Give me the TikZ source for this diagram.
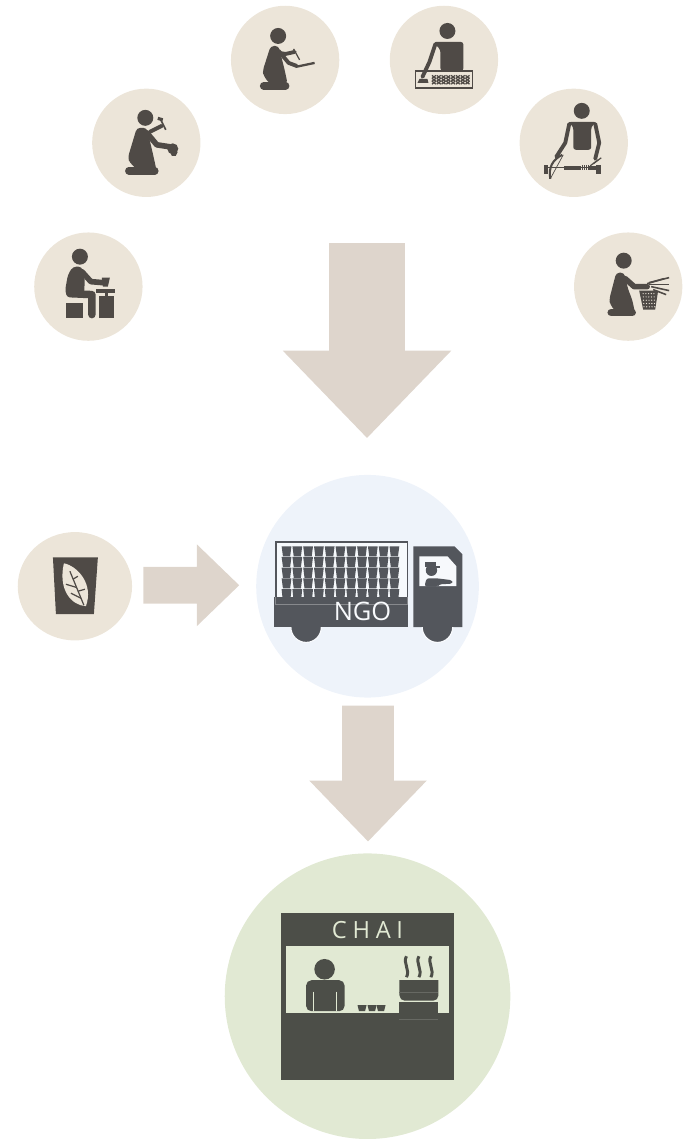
\documentclass[tikz,border=0pt]{standalone}
\usepackage{fontspec}
\setmainfont{Open Sans}
\usetikzlibrary{shapes.arrows, shapes.geometric, positioning, calc}
\definecolor{craftbg}{HTML}{ECE5D9}
\definecolor{arrowbg}{HTML}{DED5CC}
\definecolor{truckbg}{HTML}{EEF3FA}
\definecolor{stallbg}{HTML}{E1E9D3}
\definecolor{craftdark}{HTML}{4F4A46}
\definecolor{truckdark}{HTML}{53565C}
\definecolor{stalldark}{HTML}{4C4E48}
\begin{document}
\begin{tikzpicture}[
		x=0.02cm, y=-0.02cm,
		craft/.style = {circle, fill=craftbg, minimum size=2.17cm, inner sep=0pt},
		bigarrow/.style = {single arrow, fill=arrowbg, inner xsep=0pt, anchor=tip, single arrow tip angle=88, single arrow head indent=0pt},
		limb/.style = {draw=craftdark, line width=3.2pt, line cap=round, line join=round},
		footbar/.style = {draw=craftdark, line width=4.3pt, line cap=round, line join=round},
		thinlimb/.style = {draw=craftdark, line width=2.2pt, line cap=round, line join=round},
		tool/.style = {draw=craftdark, line width=0.7pt},
		stalltext/.style = {text=stallbg, font=\fontsize{13.5}{14}\selectfont}
		]
		
		% artisans
		\node [craft] (weaver) at (629,287) {};
		\node [craft] (lathe) at (574.500,143) {};
		\node [craft] (printer) at (444.500,60) {};
		\node [craft] (painter) at (285.500,60) {};
		\node [craft] (smith) at (146.500,143) {};
		\node [craft] (potter) at (88.500,287) {};
		
		% centre circles
		\node [circle, fill=truckbg, minimum size=4.46cm, inner sep=0pt] (ngo) at (368,587) {};
		\node [circle, fill=stallbg, minimum size=5.72cm, inner sep=0pt] (stall) at (368,997.500) {};
		\node [ellipse, fill=craftbg, minimum width=2.29cm, minimum height=2.17cm, inner sep=0pt] (tea) at (75,587) {};
		
		% block arrows
		\node [bigarrow, rotate=270, minimum height=3.9cm, inner ysep=0.75cm, single arrow head extend=0.93cm] (crafts_arrow) at (367.500,439) {};
		\node [bigarrow, rotate=270, minimum height=2.72cm, inner ysep=0.51cm, single arrow head extend=0.66cm] (ngo_arrow) at (368.500,843) {};
		\node [bigarrow, minimum height=1.92cm, inner ysep=0.36cm, single arrow head extend=0.45cm] (tea_arrow) at (240,586) {};
		
		% potter
		\fill [craftdark] (80,257) circle (8);
		\fill [craftdark, rounded corners=2pt] (73,267) -- (82,267) -- (85,280) -- (84,296) -- (68,298) -- (65,292) -- (68,275) -- cycle;
		\draw [limb] (82,272) -- (91,282) -- (103,283);
		\draw [footbar] (70,294) -- (92,295) -- (92,315);
		\fill [craftdark] (66,303) rectangle (83,318);
		\fill [craftdark] (102,278) -- (110,278) -- (108,287) -- (103,287) -- cycle;
		\fill [craftdark] (96,289) rectangle (115,293);
		\fill [craftdark] (105,293) rectangle (108,296);
		\fill [craftdark] (99,296) rectangle (114,318);
		
		% smith
		\fill [craftdark] (145.500,118) circle (8);
		\fill [craftdark, rounded corners=2pt] (137,128) -- (147,128) -- (151,145) -- (154,158) -- (157,172) -- (140,172) -- (130,163) -- (128,158) -- cycle;
		\draw [limb] (147,133) -- (157,145) -- (170,147);
		\draw [footbar] (129,171) -- (155,171);
		\draw [thinlimb] (150,132) -- (162,126);
		\draw [draw=craftdark, line width=1.8pt] (158,118.500) -- (163,120);
		\draw [tool, line width=1pt] (160.500,119) -- (166,130);
		\fill [craftdark] (173,149) circle (5.500);
		\fill [craftdark] (170,152) -- (178,152) -- (176,156) -- (172,156) -- cycle;
		
		% painter
		\fill [craftdark] (278.500,36) circle (8);
		\fill [craftdark, rounded corners=2pt] (271,46) -- (279,46) -- (282,58) -- (285,70) -- (288,84) -- (270,84) -- (264,76) -- (263,71) -- cycle;
		\draw [thinlimb] (279,51) -- (289,63) -- (297,66);
		\draw [thinlimb] (279,53) -- (286,54) -- (295,52);
		\draw [footbar] (264,86) -- (286,86);
		\draw [tool, line width=1.3pt] (296,67) -- (315,63);
		\draw [tool] (294,49) -- (300,60);
		
		% printer
		\fill [craftdark] (448,31) circle (8);
		\fill [craftdark, rounded corners=1.500pt] (434,42) -- (464,42) -- (464,71) -- (441,71) -- (441,50) -- cycle;
		\draw [thinlimb] (436,44) -- (430,62) -- (423,77);
		\draw [draw=craftdark, line width=0.8pt] (416,71) rectangle (473,88);
		\fill [craftdark] (418,83) -- (420,79) -- (428,79) -- (429,83) -- cycle;
		\foreach \col in {0,...,7} \foreach \row in {0,1,2} {
			\draw [tool] ({432.500+\col*4.800},{75.500+\row*2.900}) -- ++(4,3) ++(-4,0) -- ++(4,-3);
		}
		
		% lathe worker
		\fill [craftdark] (582.500,111) circle (8);
		\fill [craftdark, rounded corners=1.500pt] (569,122) -- (597,122) -- (592,127) -- (592,150) -- (574,150) -- (574,127) -- cycle;
		\draw [thinlimb] (570,124) -- (566,143) -- (557,157);
		\draw [thinlimb] (596,124) -- (600,143) -- (596,159);
		\fill [craftdark] (545,165) rectangle (549,174);
		\fill [craftdark] (597,165) rectangle (602,174);
		\draw [tool] (549,168) -- (597,168);
		\fill [craftdark] (565,166) rectangle (582,170);
		\fill [craftdark] (590,166) rectangle (597,170);
		\foreach \col in {583,585,587,589} {
			\draw [tool] (\col,165.500) -- (\col,170.500);
		}
		\draw [tool, line width=1.2pt] (551,179) .. controls (549,168) and (553,160) .. (563,155);
		\draw [tool, line width=0.4pt] (551,179) -- (564,155);
		\draw [tool] (594,164) -- (602,158);
		\draw [tool] (591,166) -- (599,160);
		
		% basket weaver
		\fill [craftdark] (624.500,261) circle (8);
		\fill [craftdark, rounded corners=2pt] (617,273) -- (625,273) -- (629,290) -- (633,300) -- (636,314) -- (618,314) -- (611,305) -- (610,300) -- cycle;
		\draw [limb] (626,279) -- (635,287) -- (648,287);
		\draw [footbar] (612,313) -- (633,313);
		\fill [craftdark] (640,291) -- (659,291) -- (656,310) -- (644,310) -- cycle;
		\foreach \col in {0,...,4} \foreach \row in {0,...,4} {
			\fill [craftbg] ({644+\col*2.700+\row*0.200},{294+\row*3.300}) circle (0.650);
		}
		\draw [tool, line width=0.9pt] (648,284) -- (665,279);
		\draw [tool, line width=0.9pt] (650,283) -- (670,278);
		\draw [tool, line width=0.9pt] (650,285) -- (670,285);
		\draw [tool, line width=0.9pt] (652,287) -- (670,291);
		\draw [tool, line width=0.9pt] (654,290) -- (667,295);
		
		% tea cup with leaf
		\fill [craftdark] (53,558) -- (98,558) -- (94,615) -- (56,615) -- cycle;
		\fill [craftbg] (64,564) .. controls (78,567) and (94,585) .. (86,607) .. controls (71,606) and (58,590) .. (64,564) -- cycle;
		\draw [tool] (70,572) -- (84,606);
		\draw [tool] (73,580) -- (78,577);
		\draw [tool] (76,588) -- (66,585);
		\draw [tool] (78,592) -- (85,590);
		\draw [tool] (81,599) -- (71,594);
		
		% truck
		\fill [truckdark] (274,598) rectangle (409,628);
		\draw [truckdark, line width=1pt, fill=white!50!truckbg] (276.500,542.500) rectangle (408,605);
		\foreach \col in {0,...,10} \foreach \row in {0,...,3} {
			\fill [truckdark] ({282+\col*10.800},{547+\row*10.700}) -- ++(9.800,0) -- ++(-1.300,10.100) -- ++(-7.200,0) -- cycle;
		}
		\foreach \col in {0,...,10} {
			\fill [truckdark] ({282+\col*10.800},590) -- ++(9.800,0) -- ++(-0.800,8) -- ++(-8.200,0) -- cycle;
		}
		\fill [truckdark] (274,598) rectangle (409,628);
		\draw [white!30!truckdark, line width=0.4pt] (276,598) -- (276,605) -- (408,605) -- (408,598);
		\fill [truckdark] (414,547) -- (455,547) -- (463,555) -- (463,628) -- (414,628) -- cycle;
		\fill [white!50!truckbg] (420,557) -- (448,557) -- (457,567) -- (457,587) -- (420,587) -- cycle;
		\fill [truckdark] (432,571) circle (5.700);
		\fill [truckdark] (426,563) rectangle (437,568);
		\fill [truckdark] (437,566.500) rectangle (441,569);
		\fill [truckdark, rounded corners=1.500pt] (425,587.500) -- (427,579) -- (437,579) -- (453,581) -- (453,584.500) -- (440,585) -- (438,587.500) -- cycle;
		\node [text=white!60!truckbg, font=\fontsize{14.5}{15}\selectfont] (ngo_label) at (363,612) {NGO};
		\fill [truckdark] (306.500,628) circle (15.300);
		\draw [white!60!truckbg, line width=0.7pt] (291.200,628) arc (180:0:15.300);
		\fill [truckdark] (438,628) circle (15.300);
		\draw [white!60!truckbg, line width=0.7pt] (422.700,628) arc (180:0:15.300);
		
		% chai stall
		\fill [stalldark] (281,914.500) rectangle (455,1081);
		\fill [stallbg] (286,947.500) rectangle (450,1014.500);
		\node [stalltext] (chai_label) at (368,931.500) {C\hspace{0.24em}H\hspace{0.24em}A\hspace{0.24em}I};
		\fill [stalldark] (325,970.500) circle (10.300);
		\fill [stalldark, rounded corners=3pt] (306.500,1012.500) -- (306.500,981.500) -- (345,981.500) -- (345,1012.500) -- cycle;
		\draw [stallbg, line width=0.4pt] (314,993) -- (314,1012.500);
		\draw [stallbg, line width=0.4pt] (337,993) -- (337,1012.500);
		\foreach \col in {358,368,377} {
			\fill [stalldark] (\col,1006.500) -- ++(9,0) -- ++(-1.500,6) -- ++(-6,0) -- cycle;
		}
		\foreach \col in {407,419.500,431.500} {
			\draw [stalldark, line width=1.700pt] (\col,957.500) .. controls ({\col-4},964) and ({\col+4},971) .. (\col,978.500);
		}
		\fill [stalldark] (400,981.500) -- (439,981.500) [rounded corners=3pt] -- (439,1002) -- (400,1002) [sharp corners] -- cycle;
		\draw [white!15!stalldark, line width=0.3pt] (400,993.500) -- (439,993.500);
		\fill [stalldark] (400,1003.500) rectangle (439,1020.500);
		\draw [white!15!stalldark, line width=0.3pt] (400,1020.500) -- (439,1020.500);
		
	\useasboundingbox (0,0) rectangle (683,1139);
\end{tikzpicture}
\end{document}
